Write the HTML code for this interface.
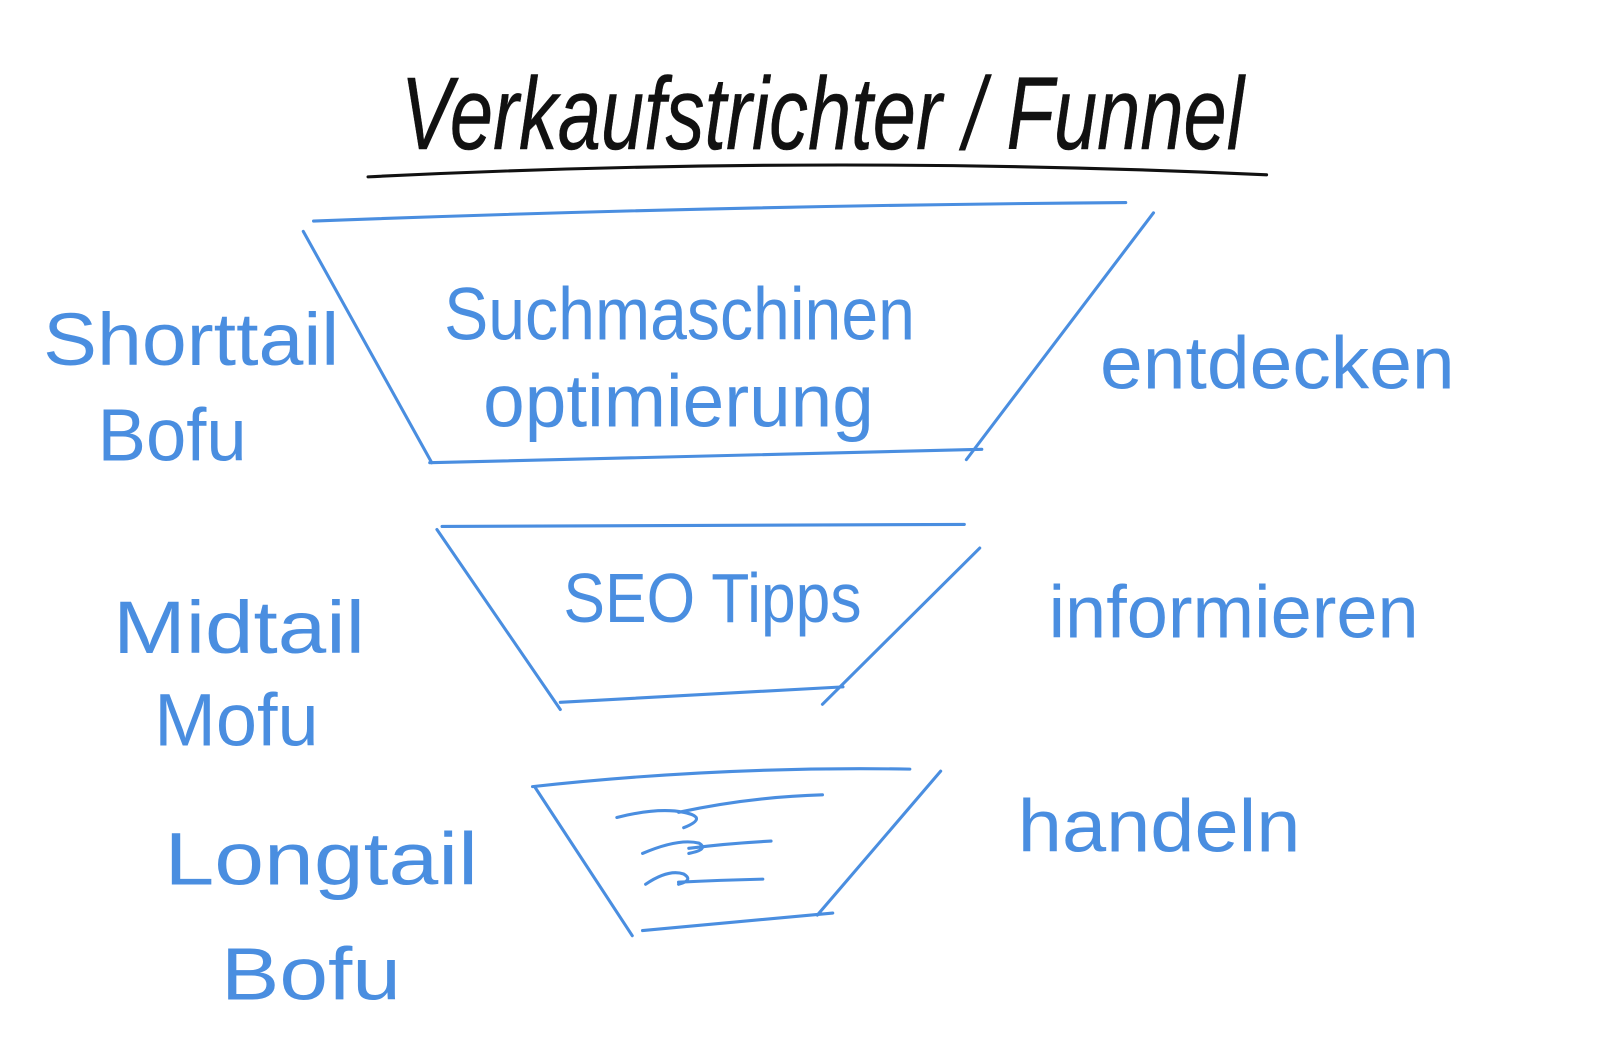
<!DOCTYPE html>
<html><head><meta charset="utf-8"><style>
html,body{margin:0;padding:0;background:#fff;width:1612px;height:1056px;overflow:hidden}
svg{display:block}
.b{fill:#4a8ee0;font-family:"Liberation Sans Narrow","Liberation Sans",sans-serif;font-weight:normal}
.k{fill:#111;font-family:"Liberation Sans Narrow","Liberation Sans",sans-serif;font-style:italic;stroke:#111;stroke-width:0.5}
.l{fill:none;stroke:#4a8ee0;stroke-width:3;stroke-linecap:round}
</style></head><body>
<svg width="1612" height="1056" viewBox="0 0 1568 1027" preserveAspectRatio="none">
<text class="k" x="390" y="145" font-size="100" textLength="820" lengthAdjust="spacingAndGlyphs">Verkaufstrichter / Funnel</text>
<path d="M358 172 Q800 150 1232 170" fill="none" stroke="#111" stroke-width="3" stroke-linecap="round"/>

<path class="l" d="M305 215 Q700 200 1095 197"/>
<path class="l" d="M295 225 L420 450"/>
<path class="l" d="M418 450 L955 437"/>
<path class="l" d="M1122 207 L940 447"/>
<text class="b" x="432" y="330" font-size="72" textLength="458" lengthAdjust="spacingAndGlyphs">Suchmaschinen</text>
<text class="b" x="470" y="415" font-size="72" textLength="380" lengthAdjust="spacingAndGlyphs">optimierung</text>
<text class="b" x="42" y="355" font-size="72" textLength="288" lengthAdjust="spacingAndGlyphs">Shorttail</text>
<text class="b" x="95" y="448" font-size="72" textLength="145" lengthAdjust="spacingAndGlyphs">Bofu</text>
<text class="b" x="1070" y="378" font-size="72" textLength="345" lengthAdjust="spacingAndGlyphs">entdecken</text>

<path class="l" d="M430 512 L938 510"/>
<path class="l" d="M425 515 L545 690"/>
<path class="l" d="M545 683 L820 668"/>
<path class="l" d="M953 533 L800 685"/>
<text class="b" x="548" y="605" font-size="68" textLength="290" lengthAdjust="spacingAndGlyphs">SEO Tipps</text>
<text class="b" x="110" y="635" font-size="72" textLength="245" lengthAdjust="spacingAndGlyphs">Midtail</text>
<text class="b" x="150" y="725" font-size="72" textLength="160" lengthAdjust="spacingAndGlyphs">Mofu</text>
<text class="b" x="1020" y="620" font-size="72" textLength="360" lengthAdjust="spacingAndGlyphs">informieren</text>

<path class="l" d="M518 765 Q700 745 885 748"/>
<path class="l" d="M520 765 L615 910"/>
<path class="l" d="M625 905 L810 888"/>
<path class="l" d="M915 750 L795 890"/>
<path class="l" d="M600 795 Q640 785 665 790 Q690 795 665 805 M660 790 Q730 775 800 773"/>
<path class="l" d="M625 830 Q660 815 680 820 Q690 826 670 830 M670 825 Q710 820 750 818"/>
<path class="l" d="M628 860 Q650 845 665 850 Q675 856 660 860 M660 858 Q700 856 742 855"/>
<text class="b" x="160" y="860" font-size="72" textLength="305" lengthAdjust="spacingAndGlyphs">Longtail</text>
<text class="b" x="215" y="972" font-size="72" textLength="175" lengthAdjust="spacingAndGlyphs">Bofu</text>
<text class="b" x="990" y="828" font-size="72" textLength="275" lengthAdjust="spacingAndGlyphs">handeln</text>
</svg>
</body></html>
